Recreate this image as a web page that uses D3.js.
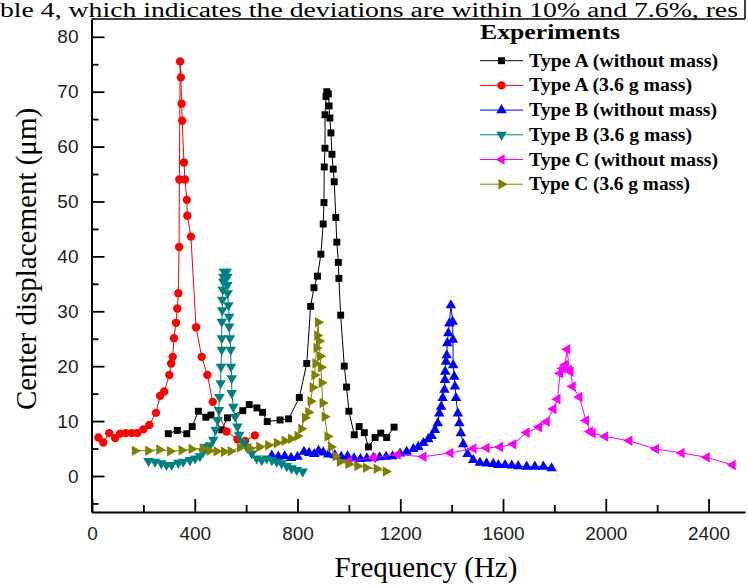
<!DOCTYPE html>
<html>
<head>
<meta charset="utf-8">
<script src="https://cdn.jsdelivr.net/npm/d3@7"></script>
<style>
  body { margin: 0; background: #fff; }
  svg { display: block; }
</style>
</head>
<body>
<div class="canvas"></div>
<script>
// values, [frequency Hz, displacement um]
const typeAFree = [[297,7.7],[332,8.3],[369,7.7],[390,9.0],[414,11.8],[443,10.7],[463,11.1],[505,8.4],[527,10.6],[587,11.9],[612,13.0],[642,12.4],[664,11.6],[682,9.9],[732,10.2],[765,10.4],[807,14.3],[836,20.5],[851,30.9],[864,34.3],[878,36.4],[891,40.4],[900,45.9],[903,49.8],[904,56.3],[907,59.7],[907,65.8],[911,69.1],[914,70.0],[920,69.6],[923,67.4],[926,65.2],[930,62.5],[934,58.6],[939,55.9],[943,53.6],[949,47.1],[953,42.6],[959,38.9],[961,36.0],[968,29.3],[982,20.0],[991,16.2],[1000,11.8],[1021,7.5],[1040,9.0],[1060,7.9],[1076,5.3],[1102,7.0],[1124,7.8],[1147,7.0],[1176,8.9]];
const typeAMass = [[25,7.0],[44,6.1],[67,7.8],[90,6.9],[109,7.7],[132,7.8],[155,7.8],[176,7.8],[200,8.5],[223,9.3],[249,11.5],[265,14.6],[281,15.4],[301,18.4],[308,20.5],[314,21.7],[319,25.1],[327,27.9],[332,30.5],[336,33.3],[339,41.7],[340,54.0],[343,75.5],[346,72.6],[349,67.8],[351,64.7],[358,57.1],[362,54.0],[369,50.3],[371,47.4],[385,43.6],[405,27.1],[427,21.7],[449,18.4],[470,13.5],[524,8.1],[566,6.7],[596,6.4],[634,7.4]];
const typeBFree = [[700,3.7],[725,3.5],[750,3.6],[775,3.3],[800,3.5],[825,4.4],[845,4.2],[865,4.0],[882,4.6],[900,4.3],[920,3.9],[945,3.8],[970,3.5],[995,3.6],[1020,3.2],[1045,3.1],[1070,3.2],[1095,3.3],[1120,3.4],[1145,3.5],[1170,3.6],[1199,4.1],[1225,4.4],[1251,4.9],[1270,5.3],[1290,6.0],[1309,6.7],[1322,7.3],[1335,8.4],[1346,9.6],[1352,11.4],[1359,12.6],[1365,14.2],[1372,15.7],[1374,17.5],[1375,19.0],[1378,20.8],[1381,22.0],[1383,24.2],[1387,26.0],[1391,27.8],[1397,31.1],[1404,28.1],[1405,24.8],[1406,20.2],[1410,18.1],[1413,16.3],[1417,14.2],[1424,11.4],[1430,9.6],[1436,7.8],[1445,5.8],[1462,4.0],[1484,2.9],[1510,2.4],[1536,2.3],[1562,2.2],[1582,2.0],[1608,2.0],[1634,1.9],[1659,1.8],[1692,1.7],[1724,1.7],[1757,1.7],[1789,1.4]];
const typeBMass = [[220,2.7],[245,2.6],[270,2.3],[290,2.0],[310,2.0],[336,2.4],[355,2.6],[381,2.9],[401,3.2],[420,3.6],[433,4.4],[446,5.3],[459,5.6],[472,6.6],[481,8.4],[489,10.2],[494,12.0],[496,14.4],[501,16.9],[502,19.9],[505,23.0],[505,25.1],[505,28.1],[507,30.2],[507,32.1],[509,33.9],[511,35.4],[511,36.3],[514,37.2],[524,37.2],[527,36.3],[527,34.8],[528,33.3],[531,31.1],[534,29.0],[534,27.2],[537,25.1],[540,23.0],[541,19.9],[544,17.8],[544,15.1],[550,12.6],[557,10.8],[566,9.0],[573,7.5],[587,6.2],[602,5.3],[622,4.1],[641,3.2],[661,2.9],[680,3.2],[700,2.9],[719,2.6],[738,2.3],[758,1.8],[777,1.4],[797,1.1],[820,0.8]];
const typeCFree = [[1000,2.7],[1095,3.3],[1190,3.9],[1290,3.5],[1395,4.2],[1485,5.0],[1536,5.1],[1588,5.3],[1640,5.8],[1692,7.9],[1740,8.9],[1770,9.9],[1796,12.2],[1812,14.0],[1822,18.7],[1832,19.6],[1841,20.2],[1850,23.1],[1857,19.3],[1863,19.0],[1871,16.3],[1897,14.4],[1923,10.1],[1938,8.1],[1949,7.8],[1997,7.2],[2092,6.4],[2195,4.9],[2295,4.2],[2393,3.4],[2494,2.0]];
const typeCMass = [[167,4.6],[219,4.6],[262,4.8],[304,4.5],[349,4.7],[388,4.9],[431,5.0],[457,4.6],[485,4.5],[514,4.4],[540,4.5],[576,5.2],[615,5.0],[651,5.3],[686,5.6],[720,6.0],[750,6.4],[775,6.8],[800,7.3],[815,8.6],[829,10.6],[842,11.6],[851,13.6],[859,16.1],[866,18.4],[870,20.5],[874,23.3],[877,25.6],[880,28.0],[884,24.6],[888,21.8],[891,19.8],[894,17.0],[898,13.3],[906,10.8],[917,7.2],[930,5.3],[948,3.6],[965,2.6],[998,2.2],[1033,1.8],[1067,1.5],[1108,1.3],[1144,0.8]];

const seriesNames = ['Type A (without mass)', 'Type A (3.6 g mass)', 'Type B (without mass)', 'Type B (3.6 g mass)', 'Type C (without mass)', 'Type C (3.6 g mass)'];
const xTicks = [0, 400, 800, 1200, 1600, 2000, 2400];
const xMinor = [200, 600, 1000, 1400, 1800, 2200];
const yTicks = [0, 10, 20, 30, 40, 50, 60, 70, 80];
const yMinor = [-5, 5, 15, 25, 35, 45, 55, 65, 75];
const caption = 'ble 4, which indicates the deviations are within 10% and 7.6%, res';

const series = [
    {name: seriesNames[0], data: typeAFree, colour: '#000000', shape: d3.symbolSquare, rot: 0, size: 48, len: 189},
    {name: seriesNames[1], data: typeAMass, colour: '#ff0000', shape: d3.symbolCircle, rot: 0, size: 55, len: 163},
    {name: seriesNames[2], data: typeBFree, colour: '#0000ff', shape: d3.symbolTriangle, rot: 0, size: 48, len: 188},
    {name: seriesNames[3], data: typeBMass, colour: '#008080', shape: d3.symbolTriangle, rot: 180, size: 48, len: 163},
    {name: seriesNames[4], data: typeCFree, colour: '#ff00ff', shape: d3.symbolTriangle, rot: -90, size: 48, len: 189},
    {name: seriesNames[5], data: typeCMass, colour: '#808000', shape: d3.symbolTriangle, rot: 90, size: 48, len: 161}
];

const dims = {width: 748, height: 586};
const plot = {left: 91.5, right: 745, top: 19, bottom: 512};

const svg = d3.select('.canvas')
    .append('svg')
    .attr('width', dims.width)
    .attr('height', dims.height);

const x = d3.scaleLinear().domain([-2, 2542]).range([plot.left, plot.right]);
const y = d3.scaleLinear().domain([-6.56, 83.24]).range([plot.bottom, plot.top]);

// caption text from the page above the figure
svg.append('text')
    .attr('x', 0).attr('y', 17)
    .attr('font-family', 'Liberation Serif')
    .attr('font-size', 20)
    .attr('textLength', 738)
    .attr('lengthAdjust', 'spacingAndGlyphs')
    .text(caption);

svg.append('path')
    .attr('d', `M${plot.left},${plot.top}H${plot.right}M${plot.right},0V${plot.top}`)
    .attr('fill', 'none')
    .attr('stroke', '#000')
    .attr('stroke-width', 1.5);

const styleAxis = g => {
    g.select('.domain').attr('stroke-width', 2);
    g.selectAll('.tick line').attr('stroke-width', 1.8);
    g.selectAll('text')
        .attr('font-family', 'Liberation Sans, Arial, sans-serif')
        .attr('font-size', 19)
        .attr('fill', '#222');
};

svg.append('g')
    .attr('transform', `translate(0, ${plot.bottom})`)
    .call(d3.axisBottom(x).tickValues(xMinor).tickSizeInner(-7).tickSizeOuter(0).tickFormat(''))
    .call(g => g.select('.domain').remove())
    .call(g => g.selectAll('.tick line').attr('stroke-width', 1.8));

svg.append('g')
    .attr('transform', `translate(0, ${plot.bottom})`)
    .call(d3.axisBottom(x).tickValues(xTicks).tickSizeInner(-13).tickSizeOuter(0).tickPadding(15).tickFormat(d3.format('d')))
    .call(styleAxis);

svg.append('g')
    .attr('transform', `translate(${plot.left}, 0)`)
    .call(d3.axisLeft(y).tickValues(yMinor).tickSizeInner(-7).tickSizeOuter(0).tickFormat(''))
    .call(g => g.select('.domain').remove())
    .call(g => g.selectAll('.tick line').attr('stroke-width', 1.8));

svg.append('g')
    .attr('transform', `translate(${plot.left}, 0)`)
    .call(d3.axisLeft(y).tickValues(yTicks).tickSizeInner(-13).tickSizeOuter(0).tickPadding(13))
    .call(styleAxis);

// axis titles
svg.append('text')
    .attr('x', 426).attr('y', 577)
    .attr('text-anchor', 'middle')
    .attr('font-family', 'Liberation Serif')
    .attr('font-size', 29)
    .text('Frequency (Hz)');

svg.append('text')
    .attr('transform', 'translate(36, 259) rotate(-90)')
    .attr('text-anchor', 'middle')
    .attr('font-family', 'Liberation Serif')
    .attr('font-size', 29)
    .text('Center displacement (μm)');

const line = d3.line().x(d => x(d[0])).y(d => y(d[1]));
const symbolPath = s => d3.symbol().type(s.shape).size(s.size)();

series.forEach(s => {
    const g = svg.append('g');
    g.append('path')
        .attr('d', line(s.data))
        .attr('fill', 'none')
        .attr('stroke', s.colour)
        .attr('stroke-width', 1);
    g.selectAll('path.pt')
        .data(s.data)
        .enter()
        .append('path')
        .attr('class', 'pt')
        .attr('d', symbolPath(s))
        .attr('transform', d => `translate(${x(d[0])}, ${y(d[1])}) rotate(${s.rot})`)
        .attr('fill', s.colour);
});

// legend
const legend = svg.append('g').attr('transform', 'translate(480, 0)');
legend.append('text')
    .attr('x', 0).attr('y', 39)
    .attr('font-family', 'Liberation Serif')
    .attr('font-weight', 'bold')
    .attr('font-size', 21)
    .attr('textLength', 140)
    .attr('lengthAdjust', 'spacingAndGlyphs')
    .text('Experiments');

series.forEach((s, i) => {
    const cy = 60.7 + i * 24.7;
    legend.append('line')
        .attr('x1', 0).attr('x2', 43)
        .attr('y1', cy).attr('y2', cy)
        .attr('stroke', s.colour)
        .attr('stroke-width', 1);
    legend.append('path')
        .attr('d', symbolPath(s))
        .attr('transform', `translate(21.5, ${cy}) rotate(${s.rot})`)
        .attr('fill', s.colour);
    legend.append('text')
        .attr('x', 49).attr('y', cy + 6)
        .attr('font-family', 'Liberation Serif')
        .attr('font-weight', 'bold')
        .attr('font-size', 18)
        .attr('textLength', s.len)
        .attr('lengthAdjust', 'spacingAndGlyphs')
        .text(s.name);
});
</script>
</body>
</html>
